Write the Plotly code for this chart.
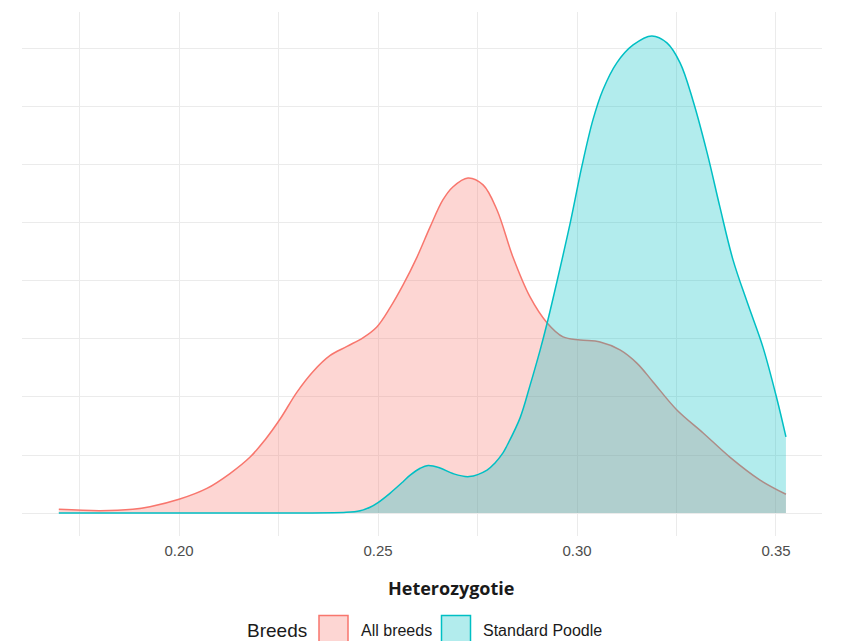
import plotly.graph_objects as go

# ---- data (density estimates) ----
all_x = [0.1698, 0.1802, 0.1884, 0.1927, 0.2000, 0.2070, 0.2128, 0.2178, 0.2216, 0.2254,
         0.2296, 0.2337, 0.2379, 0.2422, 0.2462, 0.2497, 0.2530, 0.2563, 0.2598, 0.2631,
         0.2663, 0.2688, 0.2726, 0.2764, 0.2799, 0.2839, 0.2882, 0.2925, 0.2965, 0.3008,
         0.3058, 0.3108, 0.3151, 0.3191, 0.3251, 0.3317, 0.3384, 0.3460, 0.3525]
all_y = [0.16, 0.10, 0.16, 0.27, 0.59, 1.06, 1.70, 2.40, 3.15, 4.05,
         5.20, 6.10, 6.78, 7.18, 7.55, 8.02, 8.84, 9.83, 11.03, 12.33,
         13.49, 14.05, 14.44, 14.14, 13.06, 11.03, 9.31, 8.19, 7.59, 7.46,
         7.37, 7.03, 6.45, 5.65, 4.44, 3.45, 2.41, 1.42, 0.81]

poodle_x = [0.1698, 0.2000, 0.2300, 0.2420, 0.2455, 0.2480, 0.2500, 0.2530, 0.2563, 0.2580,
            0.2606, 0.2626, 0.2656, 0.2688, 0.2729, 0.2774, 0.2794, 0.2814, 0.2824, 0.2857,
            0.2882, 0.2907, 0.2925, 0.2950, 0.2983, 0.3013, 0.3040, 0.3065, 0.3100, 0.3141,
            0.3188, 0.3226, 0.3259, 0.3291, 0.3327, 0.3359, 0.3392, 0.3430, 0.3467, 0.3503,
            0.3525]
poodle_y = [0.0, 0.0, 0.0, 0.03, 0.10, 0.25, 0.45, 0.85, 1.35, 1.62,
            1.93, 2.05, 1.94, 1.70, 1.57, 1.85, 2.16, 2.59, 2.90, 4.10,
            5.50, 7.00, 8.19, 10.0, 12.5, 15.0, 16.94, 18.23, 19.40, 20.17,
            20.56, 20.26, 19.40, 17.80, 15.52, 13.19, 10.91, 8.97, 7.16, 4.87,
            3.28]

series_names = ["All breeds", "Standard Poodle"]
x_tickvals = [0.20, 0.25, 0.30, 0.35]
x_ticktext = ["0.20", "0.25", "0.30", "0.35"]

RED = "#F8766D"
TEAL = "#00BFC4"
RED_FILL = "rgba(248,118,109,0.3)"
TEAL_FILL = "rgba(0,191,196,0.3)"

fig = go.Figure()
fig.add_trace(go.Scatter(x=all_x, y=all_y, mode="lines", name=series_names[0],
                         line=dict(color=RED, width=1.5, shape="spline", smoothing=1.0),
                         fill="tozeroy", fillcolor=RED_FILL, showlegend=False,
                         hoverinfo="skip"))
fig.add_trace(go.Scatter(x=poodle_x, y=poodle_y, mode="lines", name=series_names[1],
                         line=dict(color=TEAL, width=1.5, shape="spline", smoothing=1.0),
                         fill="tozeroy", fillcolor=TEAL_FILL, showlegend=False,
                         hoverinfo="skip"))

# page body has an 8px default margin: figure sits at (8, 8) in the page
OFF = 8
FW, FH = 841 - OFF, 641 - OFF
# plot area in page px: x 22..822, y 12..536
L, R, T, B = 22, 822, 12, 536
W, H = R - L, B - T

def px(xp):
    return (xp - L) / W

def py(yp):
    return (B - yp) / H

GRID = "#ebebeb"
fig.update_layout(
    width=FW, height=FH,
    margin=dict(l=L - OFF, r=FW - (R - OFF), t=T - OFF, b=FH - (B - OFF), pad=0),
    paper_bgcolor="white", plot_bgcolor="white",
    showlegend=False,
    xaxis=dict(range=[0.16055, 0.36156], tickvals=x_tickvals, ticktext=x_ticktext,
               showgrid=True, gridcolor=GRID, gridwidth=1, zeroline=False,
               showline=False, ticks="", ticklen=0, ticklabelstandoff=4,
               tickfont=dict(family="Liberation Sans, Arial", size=15, color="#4d4d4d"),
               minor=dict(dtick=0.025, tick0=0.175, showgrid=True, gridcolor=GRID, gridwidth=1)),
    yaxis=dict(range=[-0.99, 21.59], dtick=5, tick0=0, showticklabels=False,
               showgrid=True, gridcolor=GRID, gridwidth=1, zeroline=False,
               showline=False, ticks="",
               minor=dict(dtick=2.5, tick0=0, showgrid=True, gridcolor=GRID, gridwidth=1)),
)

annotations = [
    dict(text="<b>Heterozygotie</b>", x=px(451), y=py(588), xref="paper", yref="paper",
         xanchor="center", yanchor="middle", showarrow=False,
         font=dict(family="Open Sans", size=18, color="#1a1a1a")),
    dict(text="Breeds", x=px(245), y=py(630), xref="paper", yref="paper",
         xanchor="left", yanchor="middle", showarrow=False,
         font=dict(family="Liberation Sans, Arial", size=19, color="#1a1a1a")),
    dict(text=series_names[0], x=px(359), y=py(630), xref="paper", yref="paper",
         xanchor="left", yanchor="middle", showarrow=False,
         font=dict(family="Liberation Sans, Arial", size=16, color="#1a1a1a")),
    dict(text=series_names[1], x=px(481), y=py(630), xref="paper", yref="paper",
         xanchor="left", yanchor="middle", showarrow=False,
         font=dict(family="Liberation Sans, Arial", size=16, color="#1a1a1a")),
]
fig.update_layout(annotations=annotations)

shapes = [
    dict(type="rect", xref="paper", yref="paper", x0=px(319), x1=px(348), y0=py(645), y1=py(615.5),
         line=dict(color=RED, width=1.5), fillcolor=RED_FILL),
    dict(type="rect", xref="paper", yref="paper", x0=px(441.5), x1=px(470.5), y0=py(645), y1=py(615.5),
         line=dict(color=TEAL, width=1.5), fillcolor=TEAL_FILL),
    dict(type="line", xref="paper", yref="paper", x0=px(840), x1=px(840), y0=py(8), y1=py(553),
         line=dict(color="#cccccc", width=1.5)),
]
fig.update_layout(shapes=shapes)

fig.write_html("out.html")
